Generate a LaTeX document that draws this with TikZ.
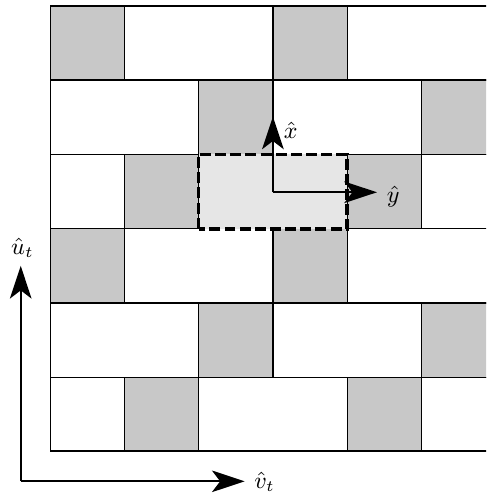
\documentclass[tikz,border=0pt]{standalone}
\usetikzlibrary{arrows.meta}
\definecolor{tiledark}{RGB}{200,200,200}
\definecolor{tilelight}{RGB}{230,230,230}
\begin{document}
\begin{tikzpicture}[x=1cm,y=1cm,
  tile/.style={fill=tiledark,draw=black,line width=0.5pt},
  gridline/.style={draw=black,line width=0.5pt},
  border/.style={draw=black,line width=0.9pt},
  patch/.style={fill=tilelight,draw=black,line width=1.4pt,dash pattern=on 4.2pt off 1.6pt},
  axis/.style={line width=0.8pt,-{Stealth[length=0.44cm,width=0.29cm,inset=0.11cm]}},
  lbl/.style={font=\fontsize{9}{11}\selectfont,inner sep=0pt}]
\useasboundingbox (-0.673,-0.584) rectangle (5.868,6.078);
\begin{scope}
\clip (0,0) rectangle (5.868,6.2);
% shaded tiles, row by row from the bottom
\foreach \c/\r in {1/0,4/0, 2/1,5/1, 0/2,3/2, 1/3,4/3, 2/4,5/4, 0/5,3/5}
  \draw[tile] (\c,\r) rectangle ++(1,1);
% horizontal lines
\foreach \r in {1,...,5}
  \draw[gridline] (0,\r) -- (6.2,\r);
% vertical joints of the white tiles
\foreach \c/\r in {2/3,5/3}
  \draw[gridline] (\c,\r) -- ++(0,1);
% highlighted patch
\draw[patch] (2,3) rectangle (4,4);
% outer frame
\draw[border] (6.2,6) -- (0,6) -- (0,0) -- (6.2,0);
\end{scope}
% local frame on the patch
\coordinate (o) at (3,3.49);
\coordinate (xt) at (3,4.51);
\coordinate (yt) at (4.40,3.49);
\draw[axis] (o) -- (xt);
\draw[axis] (o) -- (yt);
\node[lbl] (xh) at (3.24,4.33) {$\hat{x}$};
\node[lbl] (yh) at (4.62,3.43) {$\hat{y}$};
% global frame
\coordinate (O) at (-0.394,-0.40);
\coordinate (ut) at (-0.394,2.50);
\coordinate (vt) at (2.62,-0.40);
\draw[axis] (O) -- (ut);
\draw[axis] (O) -- (vt);
\node[lbl] (uh) at (-0.37,2.74) {$\hat{u}_t$};
\node[lbl] (vh) at (2.89,-0.405) {$\hat{v}_t$};
\end{tikzpicture}
\end{document}
